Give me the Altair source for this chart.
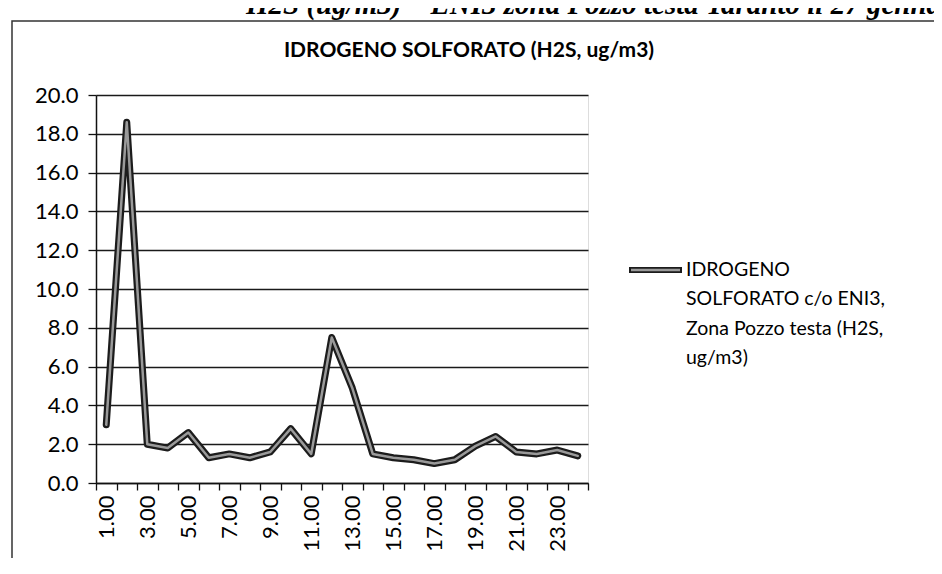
import altair as alt
import pandas as pd

# ---- data ----
hours = list(range(1, 25))
h2s = [3.0, 18.6, 2.0, 1.8, 2.6, 1.3, 1.5, 1.3, 1.6, 2.8, 1.5, 7.5,
       4.9, 1.5, 1.3, 1.2, 1.0, 1.2, 1.9, 2.4, 1.6, 1.5, 1.7, 1.4]
y_ticks = [0, 2, 4, 6, 8, 10, 12, 14, 16, 18, 20]

chart_title = "IDROGENO SOLFORATO  (H2S, ug/m3)"
legend_label = "IDROGENO\nSOLFORATO c/o ENI3,\nZona Pozzo testa (H2S,\nug/m3)"
header_text = "H2S (ug/m3) – ENI3 zona Pozzo testa Taranto il 27 gennaio"

df = pd.DataFrame({"ora": hours, "h2s": h2s})

W, H = 492, 388

x_enc = alt.X(
    "ora:O",
    scale=alt.Scale(type="band", paddingInner=0, paddingOuter=0),
    bandPosition=0.5,
    axis=alt.Axis(
        title=None,
        labelExpr="datum.value % 2 == 1 ? format(datum.value, '.2f') : ''",
        labelAngle=270,
        labelOverlap=False,
        tickBand="extent",
        grid=False,
        tickSize=7,
        labelPadding=5,
        labelFontSize=22,
        labelColor="#000000",
        domainColor="#111111",
        domainWidth=1.5,
        tickColor="#111111",
        tickWidth=1.3,
    ),
)
y_enc = alt.Y(
    "h2s:Q",
    scale=alt.Scale(domain=[0, 20], nice=False),
    axis=alt.Axis(
        title=None,
        values=y_ticks,
        format=".1f",
        grid=True,
        gridColor="#1a1a1a",
        gridWidth=1.5,
        tickSize=8,
        tickColor="#111111",
        tickWidth=1.3,
        labelPadding=10,
        labelFontSize=22,
        labelColor="#000000",
        domainColor="#111111",
        domainWidth=1.5,
    ),
)

line_dark = alt.Chart(df).mark_line(
    color="#1c1c1c", strokeWidth=7, strokeJoin="round", strokeCap="round"
).encode(x=x_enc, y=y_enc)
line_light = alt.Chart(df).mark_line(
    color="#9a9a9a", strokeWidth=2.5, strokeJoin="round", strokeCap="round"
).encode(x=x_enc, y=y_enc)

one = pd.DataFrame({"t": [chart_title]})
title_mark = alt.Chart(one).mark_text(
    font="Lato", fontWeight="bold", fontSize=21, align="center",
    baseline="alphabetic", color="#000000"
).encode(text="t:N", x=alt.value(373), y=alt.value(-38))

hdr = pd.DataFrame({"t": [header_text]})
header_mark = alt.Chart(hdr).mark_text(
    font="Liberation Serif", fontWeight="bold", fontStyle="italic", fontSize=29,
    align="left", baseline="alphabetic", color="#000000"
).encode(text="t:N", x=alt.value(150), y=alt.value(-81))

leg = pd.DataFrame({"t": [legend_label]})
legend_text = alt.Chart(leg).mark_text(
    font="Lato", fontSize=19.5, align="left", baseline="top",
    lineBreak="\n", lineHeight=29.3, color="#000000"
).encode(text="t:N", x=alt.value(590), y=alt.value(166))

legend_dark = alt.Chart(leg).mark_rule(
    color="#1c1c1c", strokeWidth=6
).encode(x=alt.value(533), x2=alt.value(586), y=alt.value(175))
legend_light = alt.Chart(leg).mark_rule(
    color="#9a9a9a", strokeWidth=2.5
).encode(x=alt.value(535), x2=alt.value(584), y=alt.value(175))

frame = alt.Chart(leg).mark_rect(
    fill="transparent", stroke="#333333", strokeWidth=1.5
).encode(x=alt.value(-84), x2=alt.value(841), y=alt.value(-74), y2=alt.value(620))

chart = alt.layer(
    frame, line_dark, line_light, title_mark, header_mark,
    legend_dark, legend_light, legend_text
).properties(
    width=W,
    height=H,
    autosize=alt.AutoSizeParams(type="none"),
    padding={"left": 88, "top": 87, "right": 346, "bottom": 75},
    background="#ffffff",
).configure_view(
    stroke="transparent"
).configure(
    font="Lato"
)

chart.save("out.html", embed_options={"renderer": "svg", "actions": False})
